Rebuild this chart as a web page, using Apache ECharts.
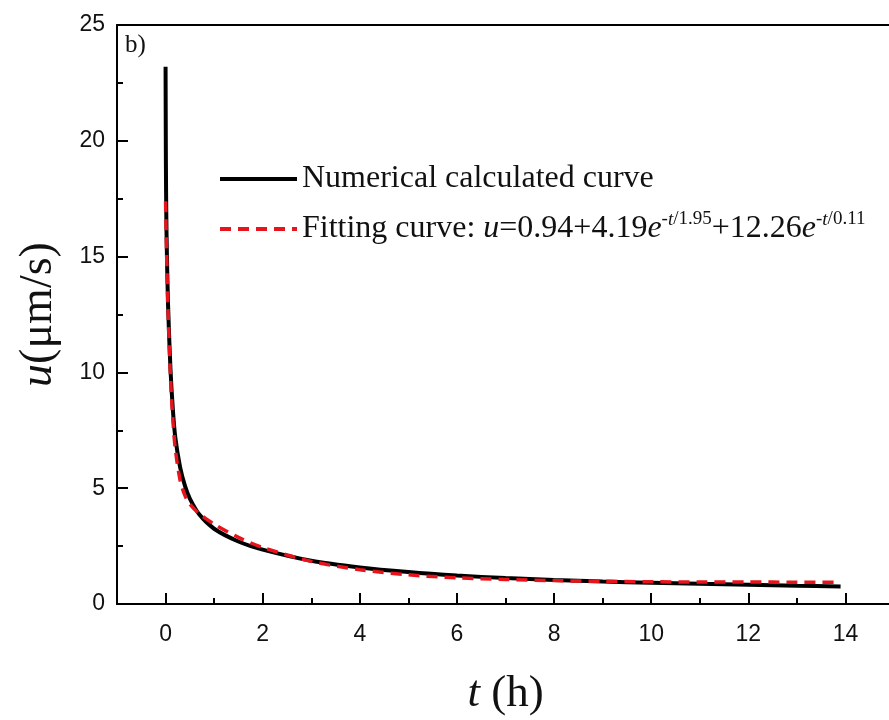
<!DOCTYPE html>
<html>
<head>
<meta charset="utf-8">
<script src="https://cdn.jsdelivr.net/npm/echarts@6/dist/echarts.min.js"></script>
<style>
  html, body { margin: 0; padding: 0; background: #fff; }
  #chart { width: 889px; height: 720px; }
</style>
</head>
<body>
<div id="chart"></div>
<script>
  // time (h) and velocity (um/s)
  var numT = [0, 0.005, 0.01, 0.02, 0.05, 0.1, 0.15, 0.2, 0.3, 0.4, 0.5, 0.7, 1, 1.5, 2, 3, 4, 5, 6, 7, 8, 9, 10, 11, 12, 13, 13.9];
  var numU = [23.2, 20.0, 18.0, 16.0, 13.0, 10.2, 8.4, 7.2, 5.9, 5.1, 4.55, 3.85, 3.25, 2.7, 2.35, 1.87, 1.58, 1.38, 1.23, 1.12, 1.04, 0.97, 0.92, 0.87, 0.83, 0.79, 0.76];

  var fitT = [0, 0.02, 0.05, 0.1, 0.15, 0.2, 0.3, 0.4, 0.5, 0.7, 1, 1.5, 2, 3, 4, 5, 6, 7, 8, 9, 10, 11, 12, 13, 13.9];
  var fitU = [17.39, 15.31, 12.81, 9.86, 7.96, 6.71, 5.34, 4.68, 4.31, 3.89, 3.45, 2.88, 2.44, 1.84, 1.48, 1.26, 1.13, 1.06, 1.01, 0.98, 0.96, 0.95, 0.95, 0.94, 0.94];

  var xMajor = [0, 2, 4, 6, 8, 10, 12, 14];
  var xMinor = [-1, 1, 3, 5, 7, 9, 11, 13, 15];
  var xRange = [-1, 15];
  var yTicks = { min: 0, max: 25, interval: 5 };

  function pairs(xs, ys) {
    return xs.map(function (x, i) { return [x, ys[i]]; });
  }

  var chart = echarts.init(document.getElementById('chart'));
  var serif = 'Liberation Serif';
  var sans = 'Liberation Sans';
  var gridBox = { left: 117, top: 25, width: 777, height: 579, containLabel: false, outerBoundsMode: 'none' };

  var option = {
    animation: false,
    backgroundColor: '#fff',
    grid: [gridBox, Object.assign({}, gridBox)],
    legend: {
      orient: 'vertical',
      left: 213,
      top: 155,
      itemWidth: 77,
      itemHeight: 14,
      itemGap: 12,
      itemStyle: { opacity: 0 },
      lineStyle: { width: 4 },
      data: ['num', 'fit'],
      formatter: function (name) {
        if (name === 'num') return 'Numerical calculated curve';
        return 'Fitting curve: {i|u}=0.94+4.19{i|e}{s|-}{si|t}{s|/1.95}+12.26{i|e}{s|-}{si|t}{s|/0.11}';
      },
      textStyle: {
        fontFamily: serif,
        fontSize: 32,
        color: '#111',
        lineHeight: 38,
        rich: {
          i: { fontFamily: serif, fontStyle: 'italic', fontSize: 32, color: '#111' },
          s: { fontFamily: serif, fontSize: 19, color: '#111', verticalAlign: 'top', padding: [0, 0, 14, 0] },
          si: { fontFamily: serif, fontStyle: 'italic', fontSize: 19, color: '#111', verticalAlign: 'top', padding: [0, 0, 14, 0] }
        }
      }
    },
    xAxis: [{
      type: 'value',
      gridIndex: 0,
      min: xRange[0],
      max: xRange[1],
      position: 'bottom',
      name: '{i|t} (h)',
      nameLocation: 'middle',
      nameGap: 68,
      nameTextStyle: {
        fontFamily: serif,
        fontSize: 45,
        color: '#111',
        rich: { i: { fontFamily: serif, fontStyle: 'italic', fontSize: 45, color: '#111' } }
      },
      axisLine: { show: true, onZero: false, lineStyle: { color: '#000', width: 2 } },
      axisTick: { show: true, inside: true, length: 11, customValues: xMajor, lineStyle: { color: '#000', width: 2 } },
      splitLine: { show: false },
      axisLabel: { fontFamily: sans, fontSize: 23, color: '#111', margin: 19, customValues: xMajor }
    }, {
      type: 'value',
      gridIndex: 0,
      min: xRange[0],
      max: xRange[1],
      position: 'top',
      axisLine: { show: true, onZero: false, lineStyle: { color: '#000', width: 2 } },
      axisTick: { show: false },
      axisLabel: { show: false },
      splitLine: { show: false }
    }, {
      // minor ticks at odd hours
      type: 'value',
      gridIndex: 1,
      min: xRange[0],
      max: xRange[1],
      position: 'bottom',
      axisLine: { show: true, onZero: false, lineStyle: { color: '#000', width: 2 } },
      axisTick: { show: true, inside: true, length: 6, customValues: xMinor, lineStyle: { color: '#000', width: 2 } },
      axisLabel: { show: false },
      splitLine: { show: false }
    }],
    yAxis: [{
      type: 'value',
      gridIndex: 0,
      min: yTicks.min,
      max: yTicks.max,
      interval: yTicks.interval,
      name: '{i|u}(μm/s)',
      nameLocation: 'middle',
      nameGap: 55,
      nameRotate: 90,
      nameTextStyle: {
        fontFamily: serif,
        fontSize: 46,
        color: '#111',
        rich: { i: { fontFamily: serif, fontStyle: 'italic', fontSize: 46, color: '#111' } }
      },
      axisLine: { show: true, onZero: false, lineStyle: { color: '#000', width: 2 } },
      axisTick: { show: true, inside: true, length: 11, lineStyle: { color: '#000', width: 2 } },
      minorTick: { show: true, splitNumber: 2, length: 6, lineStyle: { color: '#000', width: 2 } },
      splitLine: { show: false },
      axisLabel: { fontFamily: sans, fontSize: 23, color: '#111', margin: 12 }
    }, {
      type: 'value',
      gridIndex: 1,
      min: yTicks.min,
      max: yTicks.max,
      show: false
    }],
    graphic: [{
      type: 'text',
      left: 125,
      top: 33,
      style: { text: 'b)', fontFamily: serif, fontSize: 25, fill: '#111' }
    }],
    series: [{
      name: 'num',
      type: 'line',
      xAxisIndex: 0,
      yAxisIndex: 0,
      data: pairs(numT, numU),
      showSymbol: false,
      symbol: 'none',
      smooth: 0.3,
      lineStyle: { color: '#000', width: 4 },
      itemStyle: { color: '#000' },
      z: 2
    }, {
      name: 'fit',
      type: 'line',
      xAxisIndex: 0,
      yAxisIndex: 0,
      data: pairs(fitT, fitU),
      showSymbol: false,
      symbol: 'none',
      smooth: 0.3,
      lineStyle: { color: '#e8141c', width: 3.5, type: [11, 7] },
      itemStyle: { color: '#e8141c' },
      z: 3
    }]
  };

  chart.setOption(option);
  window.addEventListener('resize', function () { chart.resize(); });
</script>
</body>
</html>
